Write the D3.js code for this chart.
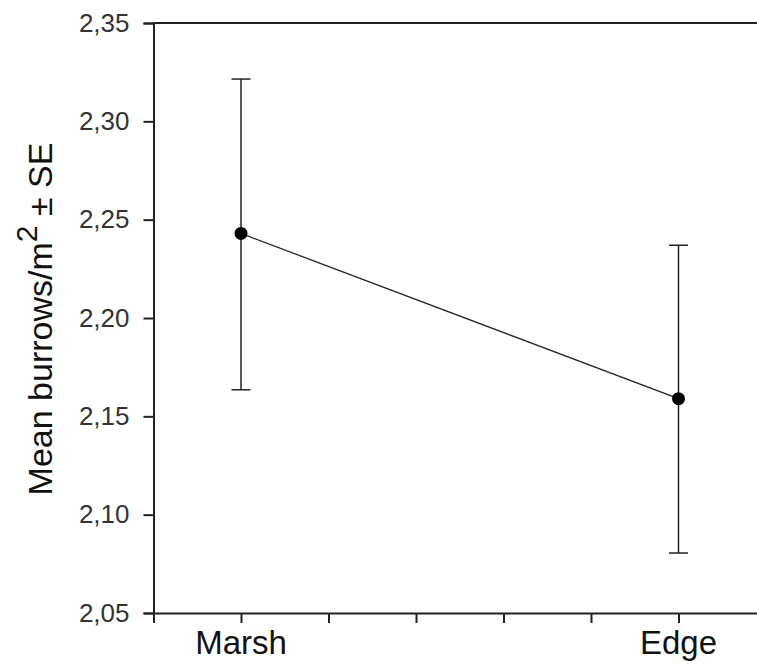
<!DOCTYPE html>
<html><head><meta charset="utf-8">
<script src="https://cdn.jsdelivr.net/npm/d3@7"></script>
<style>body{margin:0;background:#fff}svg{display:block}</style>
</head><body>
<script>
const categories = ["Marsh", "Edge"];
const catPos = [1, 6];
const means = [2.243, 2.159];
const upper = [2.3215, 2.237];
const lower = [2.1635, 2.0805];
const yTicks = [2.05, 2.10, 2.15, 2.20, 2.25, 2.30, 2.35];
const xMinorTicks = [0, 1, 2, 3, 4, 5, 6, 7];

const W = 757, H = 667;
const svg = d3.select("body").append("svg").attr("width", W).attr("height", H);
const x = d3.scaleLinear().domain([0, 7]).range([153.5, 766]);
const y = d3.scaleLinear().domain([2.05, 2.35]).range([613, 23]);
const font = "'Liberation Sans', Arial, sans-serif";
const col = "#222";

// top frame line
svg.append("line").attr("x1", x(0)).attr("x2", x(7)).attr("y1", y(2.35)).attr("y2", y(2.35))
  .attr("stroke", col).attr("stroke-width", 2);

// y axis
const ya = svg.append("g").attr("transform", `translate(${x(0)},0)`)
  .call(d3.axisLeft(y).tickValues(yTicks).tickSize(10).tickPadding(14)
    .tickFormat(d => d3.format(".2f")(d).replace(".", ",")));
ya.select(".domain").attr("stroke", col).attr("stroke-width", 2);
ya.selectAll(".tick line").attr("stroke", col).attr("stroke-width", 2);
ya.selectAll(".tick text").attr("font-family", font).attr("font-size", 26).attr("fill", "#333");

// x axis
const xa = svg.append("g").attr("transform", `translate(0,${y(2.05)})`)
  .call(d3.axisBottom(x).tickValues(xMinorTicks).tickSize(10).tickFormat(""));
xa.select(".domain").attr("stroke", col).attr("stroke-width", 2);
xa.selectAll(".tick line").attr("stroke", col).attr("stroke-width", 2);

svg.selectAll(".xlab").data(categories).enter().append("text")
  .attr("x", (d, i) => x(catPos[i])).attr("y", 654)
  .attr("text-anchor", "middle").attr("font-family", font).attr("font-size", 33).attr("fill", "#111")
  .text(d => d);

// y title
const t = svg.append("text").attr("transform", `translate(52,319) rotate(-90)`)
  .attr("text-anchor", "middle").attr("font-family", font).attr("font-size", 34).attr("fill", "#111");
t.append("tspan").text("Mean burrows/m");
t.append("tspan").attr("dy", -15).attr("font-size", 30).text("2");
t.append("tspan").attr("dy", 15).text(" ± SE");

// error bars
const g = svg.append("g");
categories.forEach((c, i) => {
  const cx = x(catPos[i]);
  g.append("line").attr("x1", cx).attr("x2", cx).attr("y1", y(upper[i])).attr("y2", y(lower[i]))
    .attr("stroke", col).attr("stroke-width", 1.5);
  [upper[i], lower[i]].forEach(v => {
    g.append("line").attr("x1", cx - 9.5).attr("x2", cx + 9.5).attr("y1", y(v)).attr("y2", y(v))
      .attr("stroke", col).attr("stroke-width", 1.5);
  });
});

// line
svg.append("path").datum(means)
  .attr("d", d3.line().x((d, i) => x(catPos[i])).y(d => y(d)))
  .attr("fill", "none").attr("stroke", col).attr("stroke-width", 1.3);

svg.selectAll(".pt").data(means).enter().append("circle")
  .attr("cx", (d, i) => x(catPos[i])).attr("cy", d => y(d)).attr("r", 6.5).attr("fill", "#000");
</script>
</body></html>
